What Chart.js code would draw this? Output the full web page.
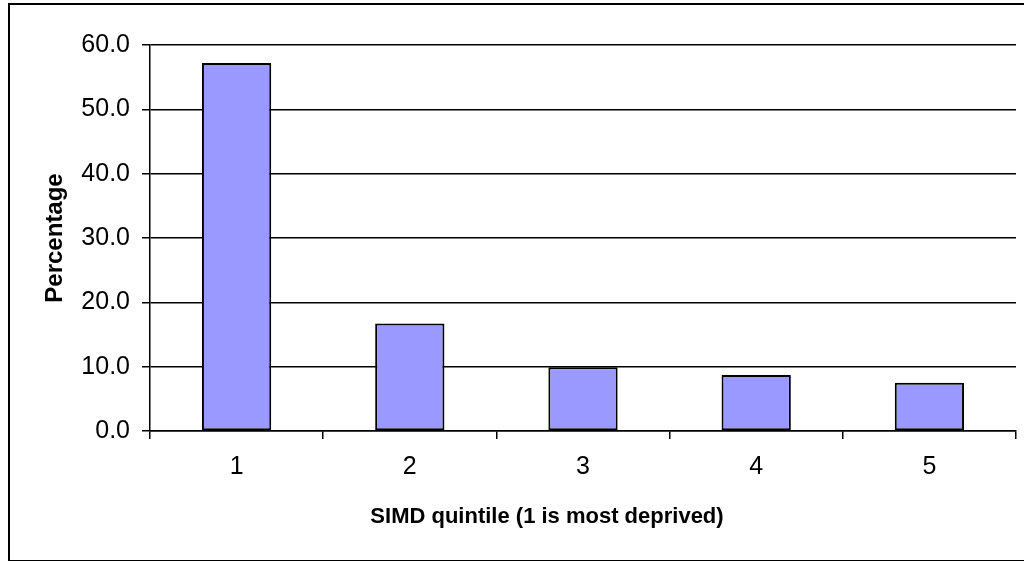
<!DOCTYPE html>
<html>
<head>
<meta charset="utf-8">
<script src="https://cdn.jsdelivr.net/npm/chart.js@4"></script>
<style>
  html, body { margin: 0; padding: 0; background: #fff; }
  #wrap { position: relative; width: 1024px; height: 561px; }
  #frame {
    position: absolute; left: 8px; top: 3px; width: 1030px; height: 555px;
    border-left: 2px solid #000; border-top: 2px solid #000; border-bottom: 2px solid #000;
  }
  canvas { position: absolute; left: 0; top: 0; }
</style>
</head>
<body>
<div id="wrap">
  <div id="frame"></div>
  <canvas id="chart" width="1024" height="561"></canvas>
</div>
<script>
const quintiles = ["1", "2", "3", "4", "5"];
const percentages = [57.2, 16.7, 9.9, 8.7, 7.5];
const yTicks = [0, 10, 20, 30, 40, 50, 60];
const xTitle = "SIMD quintile (1 is most deprived)";

Chart.defaults.font.family = "'Liberation Sans', Arial, sans-serif";
Chart.defaults.color = "#000";

// x title sits a bit left of the plot centre, like the Excel original
const xTitlePlugin = {
  id: "xTitle",
  afterDraw(chart) {
    const ctx = chart.ctx;
    ctx.save();
    ctx.font = "bold 22px 'Liberation Sans', Arial, sans-serif";
    ctx.fillStyle = "#000";
    ctx.textAlign = "center";
    ctx.textBaseline = "middle";
    ctx.fillText(xTitle, 547, 517);
    ctx.restore();
  },
};

new Chart(document.getElementById("chart").getContext("2d"), {
  type: "bar",
  data: {
    labels: quintiles,
    datasets: [
      {
        data: percentages,
        backgroundColor: "#9999ff",
        borderColor: "#000",
        borderWidth: 2,
        borderSkipped: false,
        barPercentage: 0.8,
        categoryPercentage: 0.5,
      },
    ],
  },
  options: {
    responsive: false,
    animation: false,
    layout: { padding: { left: 8, right: 8, top: 45, bottom: 0 } },
    plugins: { legend: { display: false }, tooltip: { enabled: false } },
    scales: {
      x: {
        grid: { offset: true, drawOnChartArea: false, color: "#000", tickLength: 8, lineWidth: 1.5 },
        border: { color: "#000", width: 1.5 },
        ticks: { font: { size: 25 }, padding: 13 },
        afterFit: (scale) => { scale.height = 130; },
      },
      y: {
        min: 0,
        max: 60,
        afterBuildTicks: (scale) => { scale.ticks = yTicks.map((v) => ({ value: v })); },
        grid: { color: "#000", tickLength: 8, lineWidth: 1.5 },
        border: { color: "#000", width: 1.5 },
        ticks: { font: { size: 25 }, padding: 12, callback: (v) => v.toFixed(1) },
        title: {
          display: true,
          text: "Percentage",
          font: { size: 24, weight: "bold" },
          padding: { top: 33, bottom: 0 },
        },
        afterFit: (scale) => { scale.width = 142; },
      },
    },
  },
  plugins: [xTitlePlugin],
});
</script>
</body>
</html>
